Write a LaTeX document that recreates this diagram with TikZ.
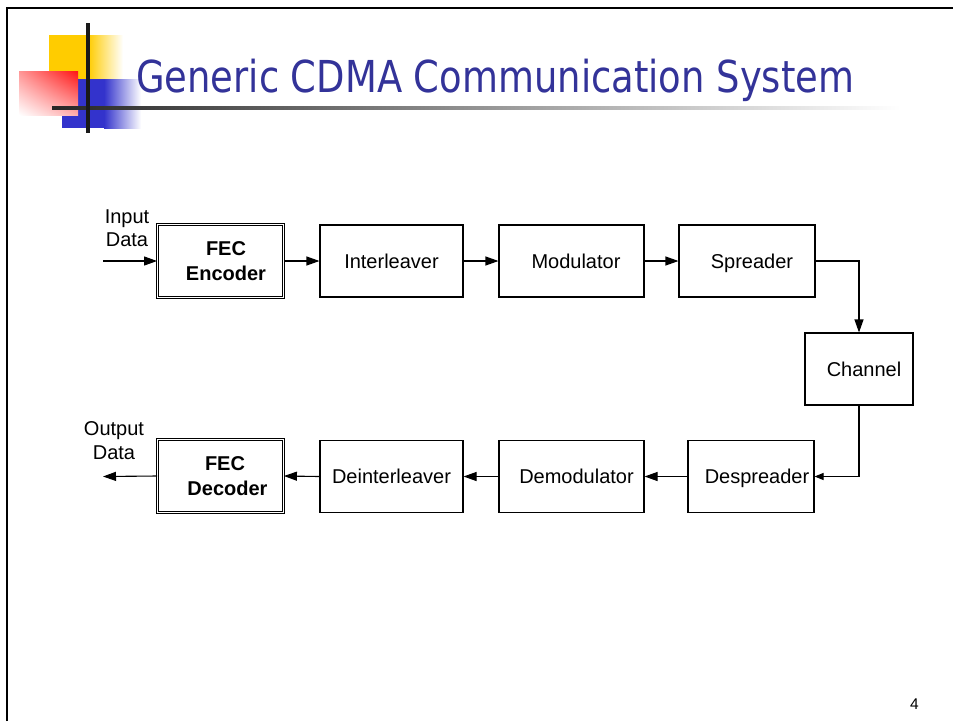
\documentclass[tikz,border=0pt]{standalone}
\usepackage{fontspec}
\usepackage{graphicx}
\setmainfont{Liberation Sans}
\newfontfamily\titlefont{DejaVu Sans}
\usetikzlibrary{arrows.meta,shadings}
\definecolor{titleblue}{RGB}{51,51,153}
\definecolor{logoyellow}{RGB}{255,204,0}
\definecolor{logoblue}{RGB}{51,51,204}
\definecolor{logored}{RGB}{255,20,20}
\tikzset{
  blk/.style={draw, line width=1.1pt, minimum height=72pt, inner sep=0pt,
    font=\fontsize{20}{24}\selectfont, text height=14.3pt, text depth=0pt},
  dblk/.style={draw, line width=0.9pt, double, double distance=1.8pt,
    minimum width=126pt, minimum height=73pt, inner sep=0pt, align=center,
    font=\fontsize{20}{25}\selectfont\bfseries},
  arr/.style={line width=1.1pt, -{Triangle[length=13pt,width=9pt]}},
  sidelbl/.style={align=center, font=\fontsize{20}{23.5}\selectfont}
}
\begin{document}
\begin{tikzpicture}[x=1pt,y=-1pt]
\useasboundingbox (0,0) rectangle (953,721);
\fill[white] (0,0) rectangle (953,721);

% slide frame (top and left edges)
\draw[line width=2.6pt] (7,721) -- (7,8) -- (953,8);

% title decoration
\fill[logoyellow] (49,35) rectangle (88,79);
\shade[left color=logoyellow, right color=white] (88,35) rectangle (123,79);
\fill[logoblue] (62,79) rectangle (104,128);
\shade[left color=logoblue, right color=white] (104,79) rectangle (141,128);
\shade[upper right=logored, upper left=logored!45!white,
       lower right=logored!35!white, lower left=white] (19,71) rectangle (78,115);
\shade[left color=black!85, right color=white] (52,106.2) rectangle (900,109);
\fill[black!90] (86,23) rectangle (90,133);

% title
\node[anchor=base west, inner sep=0pt, text=titleblue] (title) at (136,92)
  {\resizebox{718pt}{\height}{\titlefont\fontsize{44}{50}\selectfont Generic CDMA Communication System}};

% transmitter chain
\node[dblk] (enc) at (220.5,261) {\hspace*{11pt}FEC\\\hspace*{11pt}Encoder};
\node[blk, minimum width=143pt] (int) at (391.5,261) {Interleaver};
\node[blk, minimum width=145pt] (mod) at (571.5,261) {\hspace*{9pt}Modulator};
\node[blk, minimum width=136pt] (spr) at (747,261) {\hspace*{10pt}Spreader};

% channel
\node[blk, minimum width=108pt] (chan) at (859,369) {\hspace*{10pt}Channel};

% receiver chain
\node[blk, minimum width=126pt] (desp) at (751,476.5) {\hspace*{12pt}Despreader};
\node[blk, minimum width=145pt] (demod) at (571.5,476.5) {\hspace*{10pt}Demodulator};
\node[blk, minimum width=143pt] (dint) at (391.5,476.5) {Deinterleaver};
\node[dblk] (dec) at (220.5,476) {\hspace*{9pt}FEC\\\hspace*{14pt}Decoder};

% data labels (base anchor sits on the last line)
\node[sidelbl, anchor=base] (inlbl) at (127,246.7) {Input\\Data};
\node[sidelbl, anchor=base] (outlbl) at (114,459.3) {Output\\Data};
\coordinate (src) at (103,261);
\coordinate (snk) at (103,476.5);

% connectors
\draw[arr] (src) -- (enc.west);
\draw[arr] (enc.east) -- (int.west);
\draw[arr] (int.east) -- (mod.west);
\draw[arr] (mod.east) -- (spr.west);
\draw[arr] (spr.east) -| (chan.north);
\draw[line width=1.1pt, -{Triangle[length=9pt,width=7pt]}] (chan.south) |- (desp.east);
\draw[arr] (desp.west) -- (demod.east);
\draw[arr] (demod.west) -- (dint.east);
\draw[arr] (dint.west) -- (dec.east);
\draw[arr] (dec.west) -- (snk);

% page number
\node[anchor=base, font=\fontsize{15.5}{18}\selectfont] (pg) at (914.5,709.3) {4};
\end{tikzpicture}
\end{document}
